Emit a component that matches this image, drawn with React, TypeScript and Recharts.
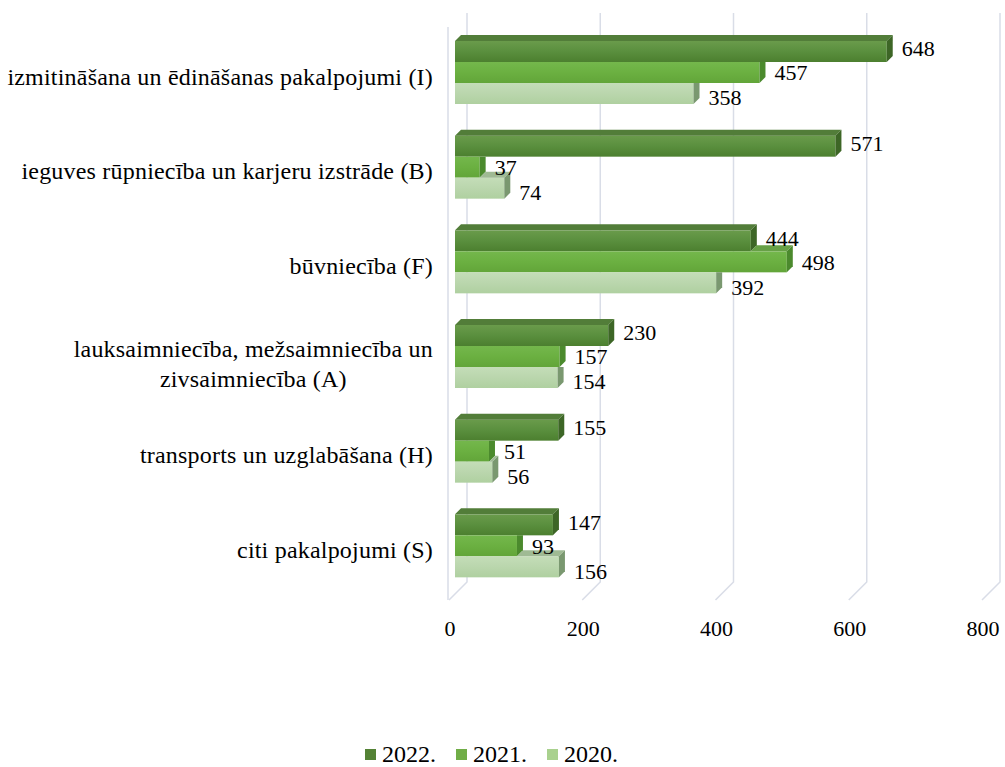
import { BarChart, Bar, XAxis, YAxis, CartesianGrid, Legend, LabelList } from 'recharts';

const CATEGORIES = [
  'izmitināšana un ēdināšanas pakalpojumi (I)',
  'ieguves rūpniecība un karjeru izstrāde (B)',
  'būvniecība (F)',
  'lauksaimniecība, mežsaimniecība un\nzivsaimniecība (A)',
  'transports un uzglabāšana (H)',
  'citi pakalpojumi (S)',
];
const VALUES_2022 = [648, 571, 444, 230, 155, 147];
const VALUES_2021 = [457, 37, 498, 157, 51, 93];
const VALUES_2020 = [358, 74, 392, 154, 56, 156];
const SERIES_NAMES = ['2022.', '2021.', '2020.'];
const X_TICKS = [0, 200, 400, 600, 800];

const data = CATEGORIES.map((name, i) => ({
  name,
  y2022: VALUES_2022[i],
  y2021: VALUES_2021[i],
  y2020: VALUES_2020[i],
}));

const KEYS = ['y2022', 'y2021', 'y2020'] as const;
const FONT = '"Liberation Serif", "Times New Roman", serif';
const CAT_SIZE = 24;
const NUM_SIZE = 22;
const DEPTH = 6; // 3d depth of the bars
const SHIFT = 5; // bars sit a bit inside the floor
const GRID = '#d9dde7';
const LABEL_DY = [-3, 0, 4];

const STYLE = {
  y2022: { front: 'g2022', top: '#527d39', side: '#3d6626', legend: '#548235' },
  y2021: { front: 'g2021', top: '#67a046', side: '#4b8a2d', legend: '#70ad47' },
  y2020: { front: 'g2020', top: '#9fba94', side: '#7a9870', legend: '#a9d18e' },
};

let ctx: CanvasRenderingContext2D | null = null;
function textWidth(s: string, size: number) {
  if (!ctx) ctx = document.createElement('canvas').getContext('2d');
  if (!ctx) return s.length * size * 0.45;
  ctx.font = `${size}px ${FONT}`;
  return ctx.measureText(s).width;
}

function Bar3D(props: any) {
  const { x, y, width, height, payload, k, above } = props;
  if (!width || width <= 0) return null;
  const st = STYLE[k as keyof typeof STYLE];
  const x0 = x + SHIFT;
  const e = x0 + width;
  const scale = width / payload[k];
  const aEnd = above ? x0 + payload[above] * scale : -Infinity;
  const s = Math.max(x0, aEnd);
  const h = height;
  const top = s < e
    ? `${s},${y} ${s + DEPTH},${y - DEPTH} ${e + DEPTH},${y - DEPTH} ${e},${y}`
    : null;
  const side = aEnd < e
    ? `${e},${y} ${e + DEPTH},${y - DEPTH} ${e + DEPTH},${y + h - DEPTH} ${e},${y + h}`
    : `${e},${y} ${e + DEPTH},${y} ${e + DEPTH},${y + h - DEPTH} ${e},${y + h}`;
  return (
    <g>
      <rect x={x0} y={y} width={width} height={h} fill={`url(#${st.front})`} />
      {top && <polygon points={top} fill={st.top} />}
      <polygon points={side} fill={st.side} />
    </g>
  );
}

// drawn with the last series so all labels sit above every bar
function GroupLabels(props: any) {
  const vb = props.viewBox || props;
  const x = vb.x ?? props.x;
  const y = vb.y ?? props.y;
  const width = vb.width ?? props.width;
  const height = vb.height ?? props.height;
  const row = data[props.index];
  if (!row) return null;
  const scale = width / row.y2020;
  return (
    <g>
      {KEYS.map((k, i) => (
        <text
          key={k}
          x={x + SHIFT + row[k] * scale + 15}
          y={y - (KEYS.length - 1 - i) * height + height / 2 + LABEL_DY[i]}
          dy="0.35em"
          fontFamily={FONT}
          fontSize={NUM_SIZE}
          fill="#000"
        >
          {row[k]}
        </text>
      ))}
    </g>
  );
}

function CategoryTick(props: any) {
  const { x, y, payload } = props;
  const lines = String(payload.value).split('\n');
  if (lines.length === 1) {
    return (
      <text x={x} y={y + 4} dy="0.35em" textAnchor="end" fontFamily={FONT} fontSize={CAT_SIZE} letterSpacing={0.2} fill="#000">
        {lines[0]}
      </text>
    );
  }
  const w = textWidth(lines[0], CAT_SIZE) + lines[0].length * 0.2;
  const cx = x - w / 2;
  return (
    <text fontFamily={FONT} fontSize={CAT_SIZE} letterSpacing={0.2} fill="#000" textAnchor="middle">
      {lines.map((l, i) => (
        <tspan key={i} x={cx} y={y - 8 + i * 30} dy="0.35em">{l}</tspan>
      ))}
    </text>
  );
}

function GridLine(props: any) {
  const { x1, y1, y2, index } = props;
  return (
    <g key={`grid-${index}`}>
      <path
        d={`M${x1 + 17},${y1 - 12} V${y2 - 11} L${x1 - 1},${y2 + 7}`}
        fill="none"
        stroke={GRID}
        strokeWidth={1.5}
      />
      {index === 0 && (
        <line x1={x1 - 2} y1={y1 + 2} x2={x1 - 2} y2={y2 + 7} stroke={GRID} strokeWidth={1.5} />
      )}
    </g>
  );
}

function LegendContent() {
  return (
    <div style={{ display: 'flex', justifyContent: 'center', alignItems: 'center', gap: 20, height: 26, fontFamily: FONT, fontSize: CAT_SIZE }}>
      {KEYS.map((k, i) => (
        <div key={k} style={{ display: 'flex', alignItems: 'center' }}>
          <span style={{ width: 11, height: 11, background: STYLE[k].legend, marginRight: 6, display: 'inline-block' }} />
          <span>{SERIES_NAMES[i]}</span>
        </div>
      ))}
    </div>
  );
}

export default function App() {
  return (
    <div style={{ position: 'absolute', left: 0, top: 0, background: '#fff' }}>
      <BarChart
        width={1005}
        height={767}
        data={data}
        layout="vertical"
        margin={{ top: 25, right: 22, left: 0, bottom: 0 }}
        barGap={0}
        barSize={21}
      >
        <defs>
          <linearGradient id="g2022" x1="0" y1="0" x2="0" y2="1">
            <stop offset="0%" stopColor="#6a9b4b" />
            <stop offset="50%" stopColor="#5a8f3e" />
            <stop offset="100%" stopColor="#4c7f2f" />
          </linearGradient>
          <linearGradient id="g2021" x1="0" y1="0" x2="0" y2="1">
            <stop offset="0%" stopColor="#74b74c" />
            <stop offset="50%" stopColor="#6bb041" />
            <stop offset="100%" stopColor="#62a539" />
          </linearGradient>
          <linearGradient id="g2020" x1="0" y1="0" x2="0" y2="1">
            <stop offset="0%" stopColor="#c4ddb8" />
            <stop offset="50%" stopColor="#bad6ad" />
            <stop offset="100%" stopColor="#afd0a0" />
          </linearGradient>
        </defs>
        <CartesianGrid horizontal={false} vertical={GridLine} />
        <XAxis
          type="number"
          domain={[0, 800]}
          ticks={X_TICKS}
          axisLine={false}
          tickLine={false}
          tickSize={0}
          tickMargin={27}
          height={148}
          tick={{ fill: '#000', fontSize: NUM_SIZE, fontFamily: FONT }}
        />
        <YAxis
          type="category"
          dataKey="name"
          width={450}
          axisLine={false}
          tickLine={false}
          tickSize={0}
          tickMargin={17}
          tick={<CategoryTick />}
          interval={0}
        />
        <Legend verticalAlign="bottom" content={<LegendContent />} />
        <Bar dataKey="y2022" name={SERIES_NAMES[0]} isAnimationActive={false}
          shape={(p: any) => <Bar3D {...p} k="y2022" />} />
        <Bar dataKey="y2021" name={SERIES_NAMES[1]} isAnimationActive={false}
          shape={(p: any) => <Bar3D {...p} k="y2021" above="y2022" />} />
        <Bar dataKey="y2020" name={SERIES_NAMES[2]} isAnimationActive={false}
          shape={(p: any) => <Bar3D {...p} k="y2020" above="y2021" />}>
          <LabelList dataKey="y2020" content={(p: any) => <GroupLabels {...p} />} />
        </Bar>
      </BarChart>
    </div>
  );
}
